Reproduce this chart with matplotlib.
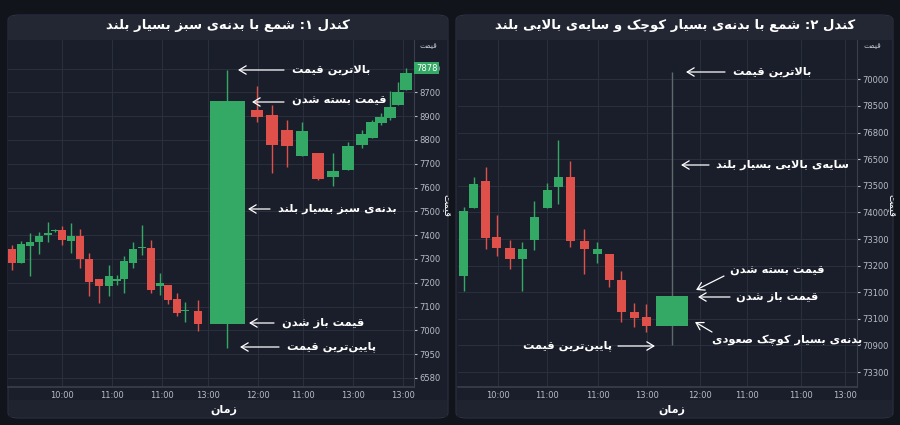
import matplotlib
matplotlib.use("Agg")
import matplotlib.pyplot as plt
from matplotlib.patches import FancyBboxPatch, Rectangle, FancyArrowPatch

plt.rcParams['font.family'] = ['DejaVu Sans', 'Noto Sans']

# ---------------- minimal Persian shaping (presentation forms) ----------------
FORMS = {
    'ا': ('\uFE8D', '\uFE8E'), 'د': ('\uFEA9', '\uFEAA'), 'ر': ('\uFEAD', '\uFEAE'),
    'ز': ('\uFEAF', '\uFEB0'), 'و': ('\uFEED', '\uFEEE'),
    'ب': ('\uFE8F', '\uFE90', '\uFE91', '\uFE92'), 'پ': ('\uFB56', '\uFB57', '\uFB58', '\uFB59'),
    'ت': ('\uFE95', '\uFE96', '\uFE97', '\uFE98'), 'چ': ('\uFB7A', '\uFB7B', '\uFB7C', '\uFB7D'),
    'س': ('\uFEB1', '\uFEB2', '\uFEB3', '\uFEB4'), 'ش': ('\uFEB5', '\uFEB6', '\uFEB7', '\uFEB8'),
    'ص': ('\uFEB9', '\uFEBA', '\uFEBB', '\uFEBC'), 'ع': ('\uFEC9', '\uFECA', '\uFECB', '\uFECC'),
    'ق': ('\uFED5', '\uFED6', '\uFED7', '\uFED8'), 'ک': ('\uFB8E', '\uFB8F', '\uFB90', '\uFB91'),
    'ل': ('\uFEDD', '\uFEDE', '\uFEDF', '\uFEE0'), 'م': ('\uFEE1', '\uFEE2', '\uFEE3', '\uFEE4'),
    'ن': ('\uFEE5', '\uFEE6', '\uFEE7', '\uFEE8'), 'ه': ('\uFEE9', '\uFEEA', '\uFEEB', '\uFEEC'),
    'ی': ('\uFBFC', '\uFBFD', '\uFBFE', '\uFBFF'),
}

def fa(s):
    out = []
    n = len(s)
    i = 0
    while i < n:
        ch = s[i]
        if ch not in FORMS:
            out.append(ch); i += 1; continue
        prev = s[i - 1] if i > 0 else ''
        pj = prev in FORMS and len(FORMS[prev]) == 4
        if ch == 'ل' and i + 1 < n and s[i + 1] == 'ا':
            out.append('\uFEFC' if pj else '\uFEFB'); i += 2; continue
        nxt = s[i + 1] if i + 1 < n else ''
        f = FORMS[ch]
        nj = len(f) == 4 and nxt in FORMS
        if pj and nj: out.append(f[3])
        elif pj: out.append(f[1])
        elif nj: out.append(f[2])
        else: out.append(f[0])
        i += 1
    return ''.join(out).replace('\u200c', '')[::-1]

# ---------------- data ----------------
# Candle 1 chart (left)
L_x = [12, 21, 30, 39, 48, 55, 62, 71, 80, 89, 99, 109, 117, 124, 133, 142, 151, 160, 168, 177, 185, 198,
       227, 257, 272, 287, 302, 318, 333, 348, 362, 372, 381, 390, 398, 406]
L_open = [7042, 6983, 7054, 7071, 7101, 7117, 7122, 7075, 7096, 7000, 6916, 6886, 6908, 6916, 6983, 7046, 7046, 6886, 6891, 6832, 6781, 6781,
          6727, 7626, 7605, 7542, 7432, 7445, 7344, 7374, 7479, 7508, 7571, 7592, 7647, 7710]
L_high = [7059, 7075, 7109, 7113, 7155, 7125, 7138, 7151, 7126, 7025, 6916, 6975, 6933, 7012, 7071, 7143, 7080, 6941, 6891, 6857, 6819, 6828,
          7794, 7726, 7647, 7584, 7575, 7445, 7445, 7491, 7542, 7584, 7613, 7705, 7743, 7802]
L_low = [6954, 6983, 6928, 7021, 7071, 7112, 7059, 7025, 6962, 6844, 6815, 6844, 6891, 6857, 6962, 7017, 6857, 6849, 6811, 6760, 6735, 6697,
         6626, 7575, 7361, 7386, 7432, 7332, 7306, 7374, 7466, 7508, 7563, 7584, 7647, 7710]
L_close = [6983, 7063, 7071, 7096, 7109, 7119, 7080, 7096, 7000, 6903, 6886, 6928, 6916, 6991, 7042, 7048, 6870, 6899, 6828, 6773, 6783, 6727,
           7663, 7596, 7479, 7474, 7537, 7336, 7369, 7474, 7525, 7575, 7596, 7638, 7701, 7781]
L_yticks = [6500 + 100 * k for k in range(14)]
L_yticklabels = ['6580', '7950', '7000', '7100', '7200', '7300', '7400', '7500', '7600', '7700', '8800', '8900', '8700', '8850']
L_xticks = [62, 112, 162, 208, 258, 303, 353, 403]
L_xticklabels = ['10:00', '11:00', '11:00', '13:00', '12:00', '11:00', '13:00', '13:00']

# Candle 2 chart (right)
R_x = [464, 474, 486, 497, 510, 522, 534, 547, 558, 570, 584, 597, 609, 621, 634, 646, 672]
R_open = [361, 617, 718, 508, 466, 425, 496, 617, 696, 733, 493, 444, 444, 346, 226, 207, 173]
R_high = [620, 733, 771, 590, 496, 489, 643, 711, 872, 793, 538, 489, 444, 380, 259, 256, 1128]
R_low = [305, 617, 462, 436, 387, 305, 459, 617, 632, 470, 368, 410, 320, 188, 169, 150, 102]
R_close = [605, 707, 504, 466, 425, 462, 583, 684, 733, 493, 462, 462, 346, 226, 203, 173, 286]
R_yticks = [100 * k for k in range(12)]
R_yticklabels = ['73300', '70900', '73100', '73100', '73200', '73300', '74000', '73500', '76500', '76800', '78500', '70000']
R_xticks = [498, 547, 598, 647, 700, 747, 801, 845]
R_xticklabels = ['10:00', '11:00', '11:00', '13:00', '12:00', '11:00', '11:00', '13:00']

# ---------------- style ----------------
BG = '#12141c'
PANEL = '#1a1e2a'
HEAD = '#232733'
GRID = '#2a2f3c'
GREEN = '#34a865'
RED = '#e0504a'
TXT = '#ffffff'
TICK = '#b8bcc6'

W, H = 900, 425
fig = plt.figure(figsize=(9, 4.25), dpi=100, facecolor=BG)

def P(x, y):
    return (x / W, 1 - y / H)

def panel(x0, x1):
    fig.patches.append(FancyBboxPatch(P(x0, 418), (x1 - x0) / W, 403 / H,
                                      boxstyle='round,pad=0,rounding_size=0.012',
                                      transform=fig.transFigure, fc=PANEL, ec='#2c3140', lw=0.8, zorder=-10))
    fig.patches.append(Rectangle(P(x0 + 1, 40), (x1 - x0 - 2) / W, 24 / H,
                                 transform=fig.transFigure, fc=HEAD, ec='none', zorder=-9))
    fig.patches.append(Rectangle(P(x0 + 1, 417), (x1 - x0 - 2) / W, 17 / H,
                                 transform=fig.transFigure, fc='#1f2330', ec='none', zorder=-9))

panel(8, 448)
panel(456, 893)

def candles(ax, xs, o, h, l, c, widths, wickcols):
    for x, op, hi, lo, cl, w, wc in zip(xs, o, h, l, c, widths, wickcols):
        col = GREEN if cl >= op else RED
        ax.vlines(x, lo, hi, color=wc if wc else col, lw=1.0, zorder=2)
        bot = min(op, cl)
        hgt = max(abs(cl - op), 3)
        ax.add_patch(Rectangle((x - w / 2, bot), w, hgt, fc=col, ec='none', zorder=3))

def setup(ax, xlim, ylim, yt, ytl, xt, xtl):
    ax.set_facecolor(PANEL)
    ax.set_xlim(*xlim)
    ax.set_ylim(*ylim)
    ax.set_yticks(yt)
    ax.set_yticklabels(ytl)
    ax.set_xticks(xt)
    ax.set_xticklabels(xtl)
    ax.yaxis.tick_right()
    ax.grid(True, color=GRID, lw=0.8)
    ax.set_axisbelow(True)
    for s in ['top', 'left', 'bottom']:
        ax.spines[s].set_visible(False)
    ax.spines['right'].set_color('#3a3f4c')
    ax.tick_params(colors=TICK, labelsize=6, length=2, pad=2)
    ax.tick_params(axis='x', length=0, pad=3)
    ax.axhline(ylim[0], color='#3a3f4c', lw=1.2, clip_on=False)

TOP, BOT = 40, 387
axL = fig.add_axes([P(8, 0)[0], 1 - BOT / H, (414 - 8) / W, (BOT - TOP) / H])
setup(axL, (8, 414), (6462, 7920), L_yticks, L_yticklabels, L_xticks, L_xticklabels)
wL = [8 if x < 210 else (35 if x == 227 else 12) for x in L_x]
candles(axL, L_x, L_open, L_high, L_low, L_close, wL, [None] * len(L_x))

axR = fig.add_axes([P(458, 0)[0], 1 - BOT / H, (857 - 458) / W, (BOT - TOP) / H])
setup(axR, (458, 857), (-56, 1248), R_yticks, R_yticklabels, R_xticks, R_xticklabels)
wR = [9] * (len(R_x) - 1) + [32]
candles(axR, R_x, R_open, R_high, R_low, R_close, wR, [None] * (len(R_x) - 1) + ['#5d6a6a'])

# current price tag left
axL.text(1.005, L_close[-1] + 20, '7878', transform=axL.get_yaxis_transform(), fontsize=6, color='white',
         va='center', ha='left', bbox=dict(fc=GREEN, ec='none', pad=1.2), zorder=5, clip_on=False)

# titles
fig.text(*P(228, 26), fa('کندل ۱: شمع با بدنه‌ی سبز بسیار بلند'), color=TXT, fontsize=9.5,
         fontweight='bold', ha='center', va='center')
fig.text(*P(675, 26), fa('کندل ۲: شمع با بدنه‌ی بسیار کوچک و سایه‌ی بالایی بلند'), color=TXT, fontsize=9.5,
         fontweight='bold', ha='center', va='center')

# axis labels
for xc in (224, 672):
    fig.text(*P(xc, 410), fa('زمان'), color=TXT, fontsize=8, fontweight='bold', ha='center', va='center')
for xr in (428, 872):
    fig.text(*P(xr, 46), fa('قیمت'), color=TICK, fontsize=5.5, ha='center', va='center')
for xr in (446, 891):
    fig.text(*P(xr, 205), fa('قیمت'), color=TXT, fontsize=7, ha='center', va='center', rotation=270)

def note(text, tx, ty, ax0, ay0, ax1, ay1, ha='left'):
    fig.text(*P(tx, ty), fa(text), color=TXT, fontsize=8.2, fontweight='bold', ha=ha, va='center')
    fig.add_artist(FancyArrowPatch(P(ax0, ay0), P(ax1, ay1), transform=fig.transFigure,
                   arrowstyle='->,head_length=0.5,head_width=0.3', color=TXT, lw=0.9, mutation_scale=10,
                   shrinkA=0, shrinkB=0, zorder=5))

# left notes
note('بالاترین قیمت', 292, 70, 284, 70, 238, 70)
note('قیمت بسته شدن', 292, 101, 284, 102, 252, 102)
note('بدنه‌ی سبز بسیار بلند', 278, 209, 270, 209, 248, 209)
note('قیمت باز شدن', 282, 323, 274, 323, 249, 323)
note('پایین‌ترین قیمت', 287, 347, 279, 347, 240, 347)
# right notes
note('بالاترین قیمت', 733, 72, 725, 72, 686, 72)
note('سایه‌ی بالایی بسیار بلند', 716, 165, 709, 165, 681, 165)
note('قیمت بسته شدن', 730, 271, 724, 276, 696, 290)
note('قیمت باز شدن', 736, 297, 730, 297, 698, 297)
note('بدنه‌ی بسیار کوچک صعودی', 712, 340, 712, 332, 695, 322)
note('پایین‌ترین قیمت', 612, 346, 618, 346, 655, 346, ha='right')

fig.savefig('out.png', dpi=100, facecolor=BG)
